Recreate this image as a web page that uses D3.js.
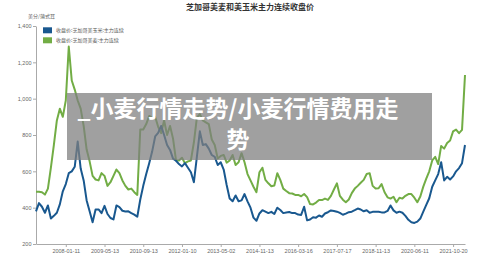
<!DOCTYPE html>
<html>
<head>
<meta charset="utf-8">
<script src="https://cdn.jsdelivr.net/npm/d3@7"></script>
<style>
  body { margin: 0; background: #fff; }
  text { font-family: "Noto Sans CJK SC", "Noto Sans", sans-serif; }
</style>
</head>
<body>
<div id="chart"></div>
<script>
// Chart Data
var chartTitle = "芝加哥美麦和美玉米主力连续收盘价";
var unitLabel = "美分/蒲式耳";
var seriesNames = ["收盘价:芝加哥美玉米:主力连续", "收盘价:芝加哥美麦:主力连续"];

var cornValues = [
  380, 425, 405, 372, 412, 340, 355, 372, 418, 490,
  530, 590, 600, 625, 764, 615, 550, 440, 380, 320,
  390, 390, 370, 410, 365, 343, 335, 412, 403, 383,
  379, 380, 370, 362, 350, 445, 520, 585, 645, 710,
  792, 812, 850, 800, 745, 718, 670, 658, 640, 627,
  645, 620, 595, 540, 680, 820, 745, 750, 725, 690,
  680, 635, 650, 610, 525, 450, 435, 467, 435, 440,
  475, 435, 400, 345, 328, 368, 386, 378, 370, 377,
  365, 400, 387, 370, 373, 376, 370, 370, 362, 360,
  405, 330, 335, 347, 345, 357, 350, 368, 375, 385,
  382, 378, 371, 361, 367, 375, 378, 386, 395, 390,
  380, 386, 372, 377, 378, 378, 374, 374, 382, 412,
  385, 372, 378, 372, 355, 333, 320, 316, 323, 340,
  378, 415, 452, 515, 550, 585, 650, 550, 570, 555,
  572, 600, 618, 645, 745
];

var wheatValues = [
  488, 488, 485, 472, 505, 620, 745, 880, 945, 900,
  990, 1287, 1100, 1050, 990, 945, 850, 720, 655, 575,
  555, 550, 590, 575, 520, 540, 575, 610, 590, 550,
  520, 500, 505, 485, 470, 830, 830, 860, 905, 895,
  900, 845, 810, 880, 800, 850, 780, 660, 660, 675,
  645, 655, 660, 760, 895, 915, 880, 870, 860, 775,
  745, 670, 685, 690, 648, 660, 690, 635, 650, 700,
  650, 585, 550, 515, 485, 595, 620, 553, 534, 518,
  522, 590, 553, 505, 492, 480, 478, 470, 470, 463,
  475, 458, 420, 418, 428, 442, 442, 450, 443, 465,
  500, 534, 465, 444, 430, 445, 480, 505, 520, 537,
  553, 585, 590, 520, 505, 507, 530, 485, 457, 450,
  460, 430, 455, 450, 465, 475, 475, 455, 430, 461,
  516, 560, 600, 660, 680, 640, 740, 725, 756, 770,
  820, 830, 810, 828, 1130
];

// Tick Labels of the Category (Trading Day) Axis and Where They Sit
var tickIndexes = [10, 23, 36, 49, 62, 75, 88, 101, 114, 127, 140];
var tickLabels = ["2008-01-11", "2009-05-13", "2010-09-13", "2012-01-10", "2013-05-02",
  "2014-11-13", "2016-03-16", "2017-07-17", "2018-11-13", "2020-06-11", "2021-10-20"];
var yTicks = [200, 400, 600, 800, 1000, 1200, 1400];

// Overlay Caption
var captionLines = ["_小麦行情走势/小麦行情费用走", "势"];

// Setup Chart Parameters/Dimensions
var svgWidth = 500;
var svgHeight = 254;

var margin = { top: 26, right: 35, bottom: 10, left: 36 };

var width = svgWidth - margin.left - margin.right;
var height = svgHeight - margin.top - margin.bottom;

var svg = d3.select("#chart")
  .append("svg")
  .attr("width", svgWidth)
  .attr("height", svgHeight);

// Title
svg.append("text")
  .attr("x", 250)
  .attr("y", 10)
  .attr("text-anchor", "middle")
  .style("font-size", "8px")
  .style("font-weight", "bold")
  .style("fill", "#333")
  .text(chartTitle);

// Unit Label
svg.append("text")
  .attr("x", 28)
  .attr("y", 18)
  .style("font-size", "5px")
  .style("fill", "#666")
  .text(unitLabel);

var chartGroup = svg.append("g")
  .attr("transform", `translate(${margin.left}, ${margin.top})`);

// Scales
var xScale = d3.scaleLinear()
  .domain([0, cornValues.length - 1])
  .range([0, width]);

var yScale = d3.scaleLinear()
  .domain([200, 1400])
  .range([height, 0]);

// Axes
var bottomAxis = d3.axisBottom(xScale)
  .tickValues(tickIndexes)
  .tickFormat((d, i) => tickLabels[i])
  .tickSize(3)
  .tickSizeOuter(0)
  .tickPadding(2);

var leftAxis = d3.axisLeft(yScale)
  .tickValues(yTicks)
  .tickFormat(d3.format(","))
  .tickSize(3)
  .tickSizeOuter(0)
  .tickPadding(1.5);

var xAxisGroup = chartGroup.append("g")
  .attr("transform", `translate(0, ${height})`)
  .call(bottomAxis);

var yAxisGroup = chartGroup.append("g")
  .call(leftAxis);

[xAxisGroup, yAxisGroup].forEach(function(g) {
  g.select(".domain").attr("stroke", "#aaa");
  g.selectAll(".tick line").attr("stroke", "#aaa");
  g.selectAll(".tick text")
    .style("font-size", "5.5px")
    .style("font-family", "'Liberation Sans', Arial, sans-serif")
    .attr("fill", "#666");
});

// Lines
var colors = ["#19588f", "#72ad45"];

var lineGen = d3.line()
  .x((d, i) => xScale(i))
  .y(d => yScale(d))
  .curve(d3.curveLinear);

[wheatValues, cornValues].forEach(function(values, k) {
  chartGroup.append("path")
    .datum(values)
    .attr("fill", "none")
    .attr("stroke", k === 0 ? colors[1] : colors[0])
    .attr("stroke-width", 2)
    .attr("stroke-linejoin", "round")
    .attr("d", lineGen);
});

// Legend
var legend = svg.append("g");
seriesNames.forEach(function(name, i) {
  legend.append("rect")
    .attr("x", 43)
    .attr("y", 27.3 + i * 10)
    .attr("width", 9)
    .attr("height", 6)
    .attr("fill", colors[i]);
  legend.append("text")
    .attr("x", 56)
    .attr("y", 30.3 + i * 10)
    .attr("dy", "0.35em")
    .style("font-size", "5px")
    .style("fill", "#555")
    .text(name);
});

// Gray Caption Box Over the Chart
svg.append("rect")
  .attr("x", 67)
  .attr("y", 93)
  .attr("width", 365)
  .attr("height", 67)
  .attr("fill", "#7f7f7f")
  .attr("opacity", 0.74);

captionLines.forEach(function(line, i) {
  svg.append("text")
    .attr("x", 238)
    .attr("y", 109 + i * 31)
    .attr("dy", "0.36em")
    .attr("text-anchor", "middle")
    .style("font-size", "23px")
    .style("font-weight", "bold")
    .style("fill", "#fff")
    .text(line);
});
</script>
</body>
</html>
